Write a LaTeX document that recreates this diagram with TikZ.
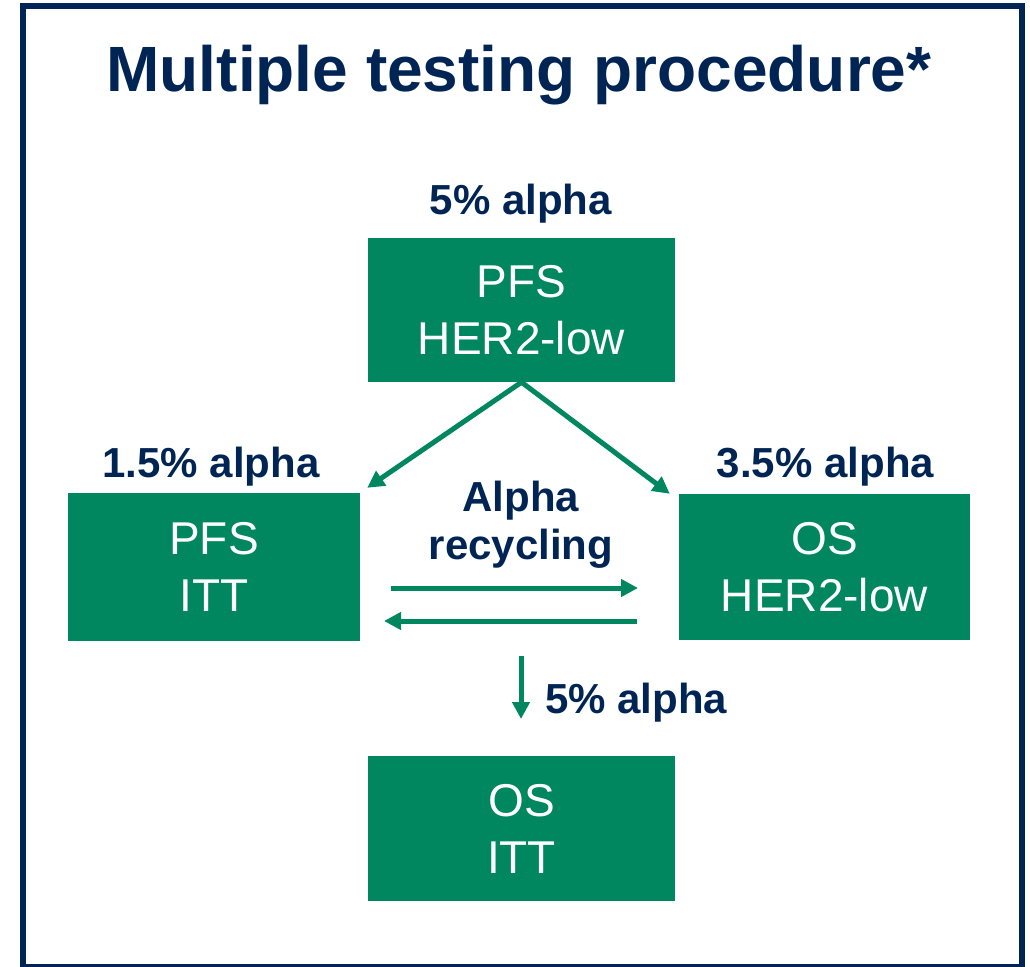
\documentclass[tikz,border=0pt]{standalone}
\usepackage{fontspec}
\setmainfont{Liberation Sans}
\usetikzlibrary{arrows.meta}
\definecolor{navy}{RGB}{0,37,84}
\definecolor{grn}{RGB}{0,135,95}
\tikzset{
  box/.style={fill=grn, text=white, inner sep=0pt, align=center,
    font=\fontsize{46}{57}\selectfont},
  lab/.style={text=navy, inner sep=0pt, align=center,
    font=\fontsize{42}{48}\selectfont\bfseries},
  arr/.style={draw=grn, line width=5pt, -{Triangle[length=17pt,width=17pt]}},
}
\begin{document}
\begin{tikzpicture}[x=1pt,y=-1pt]
\useasboundingbox (0,0) rectangle (1030,966);
\draw[navy, line width=6pt] (23,6) rectangle (1022,967);
\node[text=navy, inner sep=0pt, anchor=base, font=\fontsize{64}{70}\selectfont\bfseries] (title) at (519,91) {Multiple testing procedure*};
\node[box, minimum width=307pt, minimum height=144pt] (top) at (521.5,310) {PFS\\HER2-low};
\node[box, minimum width=292pt, minimum height=148pt] (left) at (214,567) {PFS\\ITT};
\node[box, minimum width=291pt, minimum height=146pt] (right) at (824.5,567) {OS\\HER2-low};
\node[box, minimum width=307pt, minimum height=145pt] (bottom) at (521.5,828.5) {OS\\ITT};
\node[lab, anchor=base] (a0) at (521,214) {5\% alpha};
\node[lab, anchor=base] (a1) at (211,477) {1.5\% alpha};
\node[lab, anchor=base] (a2) at (825.5,477) {3.5\% alpha};
\node[lab] (rec) at (521,525) {Alpha\\recycling};
\coordinate (h1s) at (391,588);
\coordinate (h1e) at (638,588);
\coordinate (h2s) at (637,621);
\coordinate (h2e) at (384,621);
\coordinate (ds) at (521,656);
\coordinate (de) at (521,719);
\node[lab, anchor=base west] (a3) at (545,713) {5\% alpha};
\draw[arr] (top.south) -- ([shift={(7,-5)}]left.north east);
\draw[arr] (top.south) -- ([shift={(-9,0)}]right.north west);
\draw[arr] (h1s) -- (h1e);
\draw[arr] (h2s) -- (h2e);
\draw[arr] (ds) -- (de);
\end{tikzpicture}
\end{document}
